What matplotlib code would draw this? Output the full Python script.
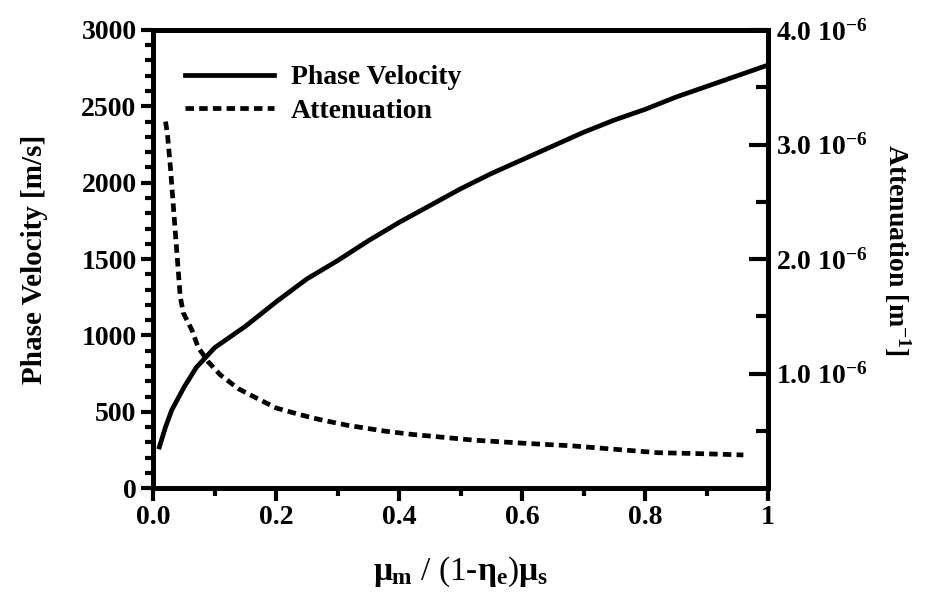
import numpy as np
import matplotlib.pyplot as plt
from matplotlib.ticker import MultipleLocator, FixedLocator

plt.rcParams['font.family'] = 'Liberation Serif'
plt.rcParams['font.weight'] = 'bold'
plt.rcParams['mathtext.fontset'] = 'custom'
plt.rcParams['mathtext.rm'] = 'Liberation Serif:bold'
plt.rcParams['mathtext.it'] = 'Liberation Serif:bold'
plt.rcParams['mathtext.bf'] = 'Liberation Serif:bold'

# данные
x_phase = [0.01, 0.02, 0.03, 0.05, 0.07, 0.1, 0.15, 0.2, 0.25, 0.3, 0.35, 0.4, 0.45,
           0.5, 0.55, 0.6, 0.65, 0.7, 0.75, 0.8, 0.85, 0.9, 0.95, 1.0]
phase_velocity = [270, 400, 510, 660, 790, 920, 1060, 1220, 1370, 1490, 1620, 1740, 1850,
                  1960, 2060, 2150, 2240, 2330, 2410, 2480, 2560, 2630, 2700, 2770]

x_att = [0.02, 0.023, 0.028, 0.036, 0.044, 0.049, 0.063, 0.073, 0.09, 0.109, 0.138, 0.163,
         0.2, 0.24, 0.27, 0.315, 0.374, 0.42, 0.47, 0.52, 0.61, 0.68, 0.75, 0.82, 0.9, 0.96]
attenuation_e6 = [3.2, 3.1, 2.8, 2.23, 1.67, 1.53, 1.38, 1.23, 1.1, 0.99, 0.87, 0.8,
                  0.7, 0.64, 0.6, 0.55, 0.5, 0.47, 0.445, 0.42, 0.39, 0.37, 0.34, 0.31, 0.3, 0.29]

x_ticks = [0.0, 0.2, 0.4, 0.6, 0.8, 1.0]
x_ticklabels = ['0.0', '0.2', '0.4', '0.6', '0.8', '1']
att_ticks = [1.0, 2.0, 3.0, 4.0]
att_ticklabels = [r'1.0 10$^{-6}$', r'2.0 10$^{-6}$', r'3.0 10$^{-6}$', r'4.0 10$^{-6}$']

fig = plt.figure(figsize=(9.4, 5.99), dpi=100)
ax = fig.add_axes([0.163, 0.185, 0.654, 0.765])
ax2 = ax.twinx()

l1, = ax.plot(x_phase, phase_velocity, color='black', lw=3.4, label='Phase Velocity')
l2, = ax2.plot(x_att, attenuation_e6, color='black', lw=3.4, linestyle=(0, (1.8, 1.1)),
               label='Attenuation')

ax.set_xlim(0, 1)
ax.set_ylim(0, 3000)
ax2.set_ylim(0, 4.0)

ax.set_xticks(x_ticks)
ax.set_xticklabels(x_ticklabels)
ax.xaxis.set_minor_locator(MultipleLocator(0.1))
ax.yaxis.set_major_locator(MultipleLocator(500))
ax.yaxis.set_minor_locator(MultipleLocator(100))
ax2.set_yticks(att_ticks)
ax2.set_yticklabels(att_ticklabels)
ax2.yaxis.set_minor_locator(FixedLocator([0.5, 1.5, 2.5, 3.5]))

ax.tick_params(axis='both', which='major', direction='out', length=9, width=3,
               labelsize=20, pad=3)
ax.tick_params(axis='both', which='minor', direction='out', length=6, width=3)
ax2.tick_params(axis='y', which='major', direction='in', length=14, width=3,
                labelsize=20, pad=6)
ax2.tick_params(axis='y', which='minor', direction='in', length=9, width=3)

for a in (ax, ax2):
    for s in a.spines.values():
        s.set_linewidth(3.5)

ax.set_ylabel('Phase Velocity [m/s]', fontsize=21, fontweight='bold', labelpad=24)
ax2.set_ylabel(r'Attenuation [m$^{-1}$]', fontsize=20, fontweight='bold',
               rotation=270, labelpad=40)
ax2.yaxis.set_label_coords(1.235, 0.52)
ax.set_xlabel(r'$\mu_m$ / (1-$\eta_e$)$\mu_s$', fontsize=24, labelpad=18)

ax.legend(handles=[l1, l2], loc='upper left', frameon=False, fontsize=20,
          handlelength=3.2, borderaxespad=0.2, labelspacing=0.3,
          handletextpad=0.6, bbox_to_anchor=(0.025, 0.96))

plt.savefig('out.png', dpi=100)
